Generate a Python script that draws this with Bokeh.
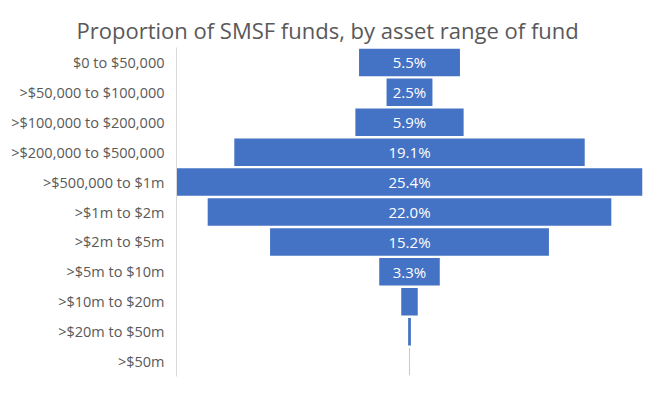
from bokeh.plotting import figure
from bokeh.models import Range1d, FactorRange, ColumnDataSource
from bokeh.embed import file_html
from bokeh.resources import INLINE
from bokeh.core.properties import value

categories = ["$0 to $50,000", ">$50,000 to $100,000", ">$100,000 to $200,000",
              ">$200,000 to $500,000", ">$500,000 to $1m", ">$1m to $2m",
              ">$2m to $5m", ">$5m to $10m", ">$10m to $20m", ">$20m to $50m", ">$50m"]
shares = [5.5, 2.5, 5.9, 19.1, 25.4, 22.0, 15.2, 3.3, 0.9, 0.15, 0.02]
label_texts = ["5.5%", "2.5%", "5.9%", "19.1%", "25.4%", "22.0%", "15.2%", "3.3%", "", "", ""]

half = max(shares) / 2
src = ColumnDataSource(dict(
    cat=categories,
    left=[-v / 2 for v in shares],
    right=[v / 2 for v in shares],
    lbl=label_texts,
    x0=[0] * len(shares),
))

p = figure(width=644, height=380, output_backend="svg", toolbar_location=None,
           y_range=FactorRange(*reversed(categories), range_padding=0),
           x_range=Range1d(-half, half),
           min_border_left=176, min_border_right=2, min_border_bottom=4, min_border_top=47)

p.hbar(y="cat", left="left", right="right", height=0.92, source=src,
       fill_color="#4472C4", line_color=None)
p.text(x="x0", y="cat", text="lbl", source=src, text_color="white",
       text_align="center", text_baseline="middle", text_font=value("Open Sans"),
       text_font_size="15px")

p.title.text = "Proportion of SMSF funds, by asset range of fund"
p.title.align = "left"
p.title.offset = -100
p.title.text_font = "Open Sans"
p.title.text_font_size = "22px"
p.title.text_font_style = "normal"
p.title.text_color = "#595959"
p.title.standoff = 6

p.xaxis.visible = False
p.xgrid.visible = False
p.ygrid.visible = False
p.outline_line_color = None

ax = p.yaxis[0]
ax.axis_line_color = "#d9d9d9"
ax.major_tick_line_color = None
ax.minor_tick_line_color = None
ax.major_tick_out = 0
ax.major_label_standoff = 12
ax.major_label_text_font = "Open Sans"
ax.major_label_text_font_size = "14.5px"
ax.major_label_text_color = "#595959"

open("out.html", "w").write(file_html(p, INLINE))
